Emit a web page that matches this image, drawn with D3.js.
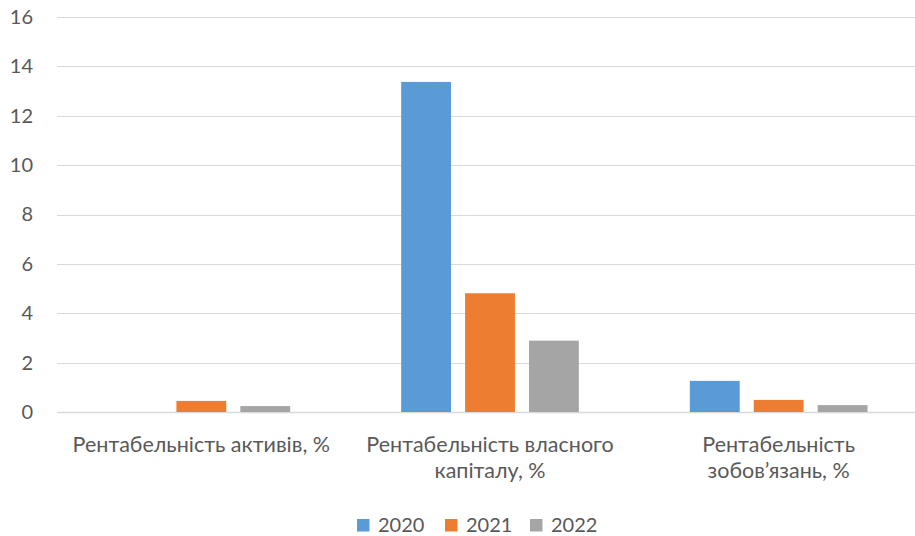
<!DOCTYPE html>
<html>
<head>
<meta charset="utf-8">
<script src="https://cdn.jsdelivr.net/npm/d3@7"></script>
<style>
  html, body { margin: 0; padding: 0; background: #fff; }
  svg { display: block; }
  text { font-family: Lato, "Open Sans", sans-serif; fill: #595959; }
</style>
</head>
<body>
<svg id="chart" width="915" height="536"></svg>
<script>
const categories = [
  "Рентабельність активів, %",
  "Рентабельність власного капіталу, %",
  "Рентабельність зобов’язань, %"
];
const seriesNames = ["2020", "2021", "2022"];
const values2020 = [0, 13.37, 1.26];
const values2021 = [0.45, 4.81, 0.49];
const values2022 = [0.24, 2.89, 0.28];
const yTicks = [0, 2, 4, 6, 8, 10, 12, 14, 16];
const colors = ["#5b9bd5", "#ed7d31", "#a5a5a5"];

const seriesValues = [values2020, values2021, values2022];
const rows = categories.map((c, i) => ({
  category: c,
  values: seriesNames.map((s, j) => ({ series: s, value: seriesValues[j][i] }))
}));

const svg = d3.select("#chart");
const margin = { left: 57, right: -8, top: 17, bottom: 124 };
const width = 915, height = 536;

const x0 = d3.scaleBand()
  .domain(categories)
  .range([margin.left, width - margin.right])
  .paddingInner(0)
  .paddingOuter(0);

const x1 = d3.scaleBand()
  .domain(seriesNames)
  .range([55.5, x0.bandwidth() - 55.5])
  .paddingInner(0.22);

const y = d3.scaleLinear()
  .domain([0, 16])
  .range([height - margin.bottom, margin.top]);

// gridlines
svg.append("g")
  .selectAll("line")
  .data(yTicks)
  .join("line")
  .attr("x1", margin.left)
  .attr("x2", width - margin.right)
  .attr("y1", d => Math.round(y(d)) + 0.5)
  .attr("y2", d => Math.round(y(d)) + 0.5)
  .attr("stroke", "#d9d9d9")
  .attr("stroke-width", d => d === 0 ? 1.5 : 1);

// y axis labels
const yAxis = d3.axisLeft(y).tickValues(yTicks).tickSize(0).tickPadding(0);
const yg = svg.append("g")
  .attr("transform", `translate(33,0)`)
  .call(yAxis);
yg.select(".domain").remove();
yg.selectAll("text")
  .attr("font-size", 20)
  .attr("fill", "#595959")
  .style("font-family", "Lato, 'Open Sans', sans-serif");

// bars
const groups = svg.append("g")
  .selectAll("g")
  .data(rows)
  .join("g")
  .attr("transform", d => `translate(${x0(d.category)},0)`);

groups.selectAll("rect")
  .data(d => d.values.filter(v => v.value > 0))
  .join("rect")
  .attr("x", d => x1(d.series))
  .attr("width", x1.bandwidth())
  .attr("y", d => y(d.value))
  .attr("height", d => y(0) - y(d.value))
  .attr("fill", (d) => colors[seriesNames.indexOf(d.series)]);

// category labels with wrapping
const labelSize = 21.5;
const xAxis = d3.axisBottom(x0).tickSize(0).tickPadding(0);
const xg = svg.append("g")
  .attr("transform", `translate(0,${y(0)})`)
  .call(xAxis);
xg.select(".domain").remove();
xg.selectAll("text").remove();

const maxLineWidth = 275;
const measure = svg.append("text").attr("font-size", labelSize).attr("visibility", "hidden");
function wrapWords(str) {
  const words = str.split(" ");
  const lines = [];
  let line = "";
  words.forEach(w => {
    const test = line ? line + " " + w : w;
    measure.text(test);
    if (measure.node().getComputedTextLength() > maxLineWidth && line) {
      lines.push(line);
      line = w;
    } else {
      line = test;
    }
  });
  if (line) lines.push(line);
  return lines;
}

xg.selectAll(".tick").each(function(d) {
  const t = d3.select(this).append("text")
    .attr("font-size", labelSize)
    .attr("text-anchor", "middle")
    .attr("fill", "#595959");
  wrapWords(d).forEach((ln, i) => {
    t.append("tspan")
      .attr("x", 0)
      .attr("y", 39.5 + i * 26)
      .text(ln);
  });
});
measure.remove();

// legend
const legendItems = [
  { name: seriesNames[0], x: 357 },
  { name: seriesNames[1], x: 445 },
  { name: seriesNames[2], x: 530 }
];
const lg = svg.append("g");
legendItems.forEach((it, i) => {
  lg.append("rect")
    .attr("x", it.x)
    .attr("y", 519)
    .attr("width", 12.5)
    .attr("height", 12.5)
    .attr("fill", colors[i]);
  lg.append("text")
    .attr("x", it.x + 21)
    .attr("y", 532)
    .attr("font-size", 20)
    .attr("fill", "#595959")
    .text(it.name);
});
</script>
</body>
</html>
